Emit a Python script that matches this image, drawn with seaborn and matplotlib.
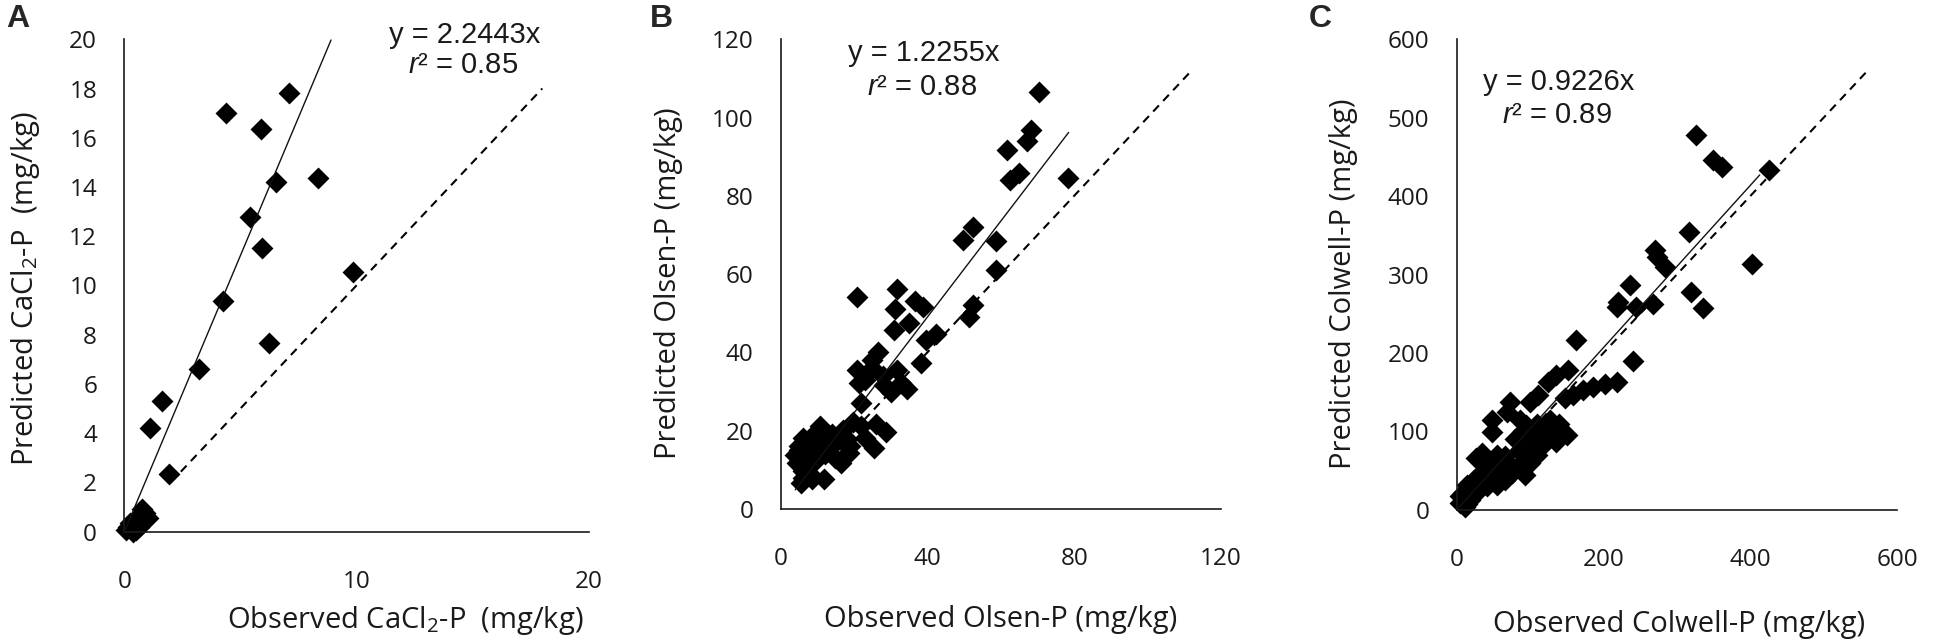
import numpy as np
import pandas as pd
import matplotlib
matplotlib.use("Agg")
import matplotlib.pyplot as plt
import seaborn as sns

# ---------------- data ----------------
a_obs = [4.39, 7.11, 5.88, 8.33, 6.54, 5.41, 5.91, 9.86, 4.25, 6.24, 3.23, 1.61, 1.11, 1.94,
         0.05, 0.15, 0.30, 0.25, 0.45, 0.50, 0.60, 0.75, 0.90, 0.80, 1.00, 0.35, 0.65]
a_pred = [17.0, 17.8, 16.35, 14.36, 14.2, 12.78, 11.53, 10.53, 9.37, 7.65, 6.62, 5.32, 4.21, 2.33,
          0.05, 0.20, 0.10, 0.35, 0.30, 0.05, 0.60, 0.90, 0.75, 0.40, 0.55, 0.00, 0.20]

b_obs = [70.3, 68.3, 67.2, 61.7, 65.1, 62.4, 78.4, 52.5, 49.7, 58.7, 58.7, 52.5, 51.4, 20.9,
         31.6, 31.3, 36.5, 38.9, 35.0, 31.0, 42.3, 39.5, 38.4, 26.5, 24.8, 20.9, 21.4, 28.2,
         31.6, 32.7, 34.4, 22.0, 19.8, 22.0, 26.0, 28.8, 25.4, 23.1, 10.7, 14.1, 16.9, 17.5,
         16.4, 18.6, 11.9, 9.6, 6.2, 5.1, 4.5, 5.6, 8.5, 7.3, 9.0, 6.2, 4.0, 7.9, 13.0, 14.7,
         5.0, 6.0, 7.0, 8.0, 9.0, 10.0, 11.0, 12.0, 6.0, 8.0, 13.0, 15.0, 18.0, 19.0, 17.0,
         23.0, 25.0, 28.0, 30.0]
b_pred = [106.5, 96.8, 93.9, 91.8, 85.9, 84.0, 84.5, 72.0, 68.8, 68.5, 61.0, 52.1, 49.0, 54.2,
          56.3, 51.0, 53.1, 51.6, 47.4, 45.8, 44.8, 43.2, 37.4, 40.1, 38.0, 35.4, 32.2, 31.7,
          35.4, 32.2, 30.6, 27.0, 22.3, 21.2, 21.8, 19.7, 15.5, 18.1, 21.2, 19.1, 20.2, 16.5,
          11.8, 14.4, 7.6, 15.0, 18.1, 15.0, 11.8, 6.6, 7.6, 10.8, 19.1, 9.7, 13.9, 12.9, 15.5, 12.9,
          16.0, 13.0, 15.0, 17.0, 12.0, 18.0, 16.0, 14.0, 8.0, 9.0, 18.0, 17.0, 18.0, 16.0, 13.0,
          33.0, 36.0, 34.0, 30.0]

c_obs = [326, 350, 361, 425, 316, 270, 273, 284, 402, 236, 319, 336, 220, 218, 245, 268,
         162, 240, 218, 202, 186, 172, 159, 148, 152, 136, 125, 111, 100, 73, 68, 48, 48,
         86, 95, 127, 145, 136, 118, 104, 100, 89, 93, 82, 66, 55, 34, 27, 41, 59, 66, 50,
         36, 23, 14, 9, 5, 14, 11, 27, 41, 55, 75, 109, 123, 5, 18,
         20, 30, 45, 60, 70, 80, 90, 110, 120, 130, 140, 150, 100, 85]
c_pred = [478, 446, 437, 433, 354, 331, 323, 310, 314, 287, 278, 257, 265, 259, 259, 263,
          216, 190, 163, 161, 157, 153, 146, 142, 178, 172, 163, 146, 138, 138, 125, 115, 99,
          115, 108, 115, 97, 87, 89, 97, 83, 72, 44, 55, 68, 70, 72, 66, 59, 55, 38, 42,
          44, 38, 32, 21, 17, 8, 4, 21, 30, 32, 47, 70, 101, 9, 13,
          30, 45, 55, 50, 60, 90, 100, 110, 85, 100, 110, 95, 60, 75]

fit_a_x = [0.0, 8.9]
fit_a_y = [0.0, 19.97]
fit_b_x = [4.0, 78.5]
fit_b_y = [4.9, 96.2]
fit_c_x = [0.0, 413.0]
fit_c_y = [0.0, 427.0]

one_a = [2.0, 18.0]
one_b = [20.0, 112.0]
one_c = [20.0, 560.0]

eq_text = ["y = 2.2443x", "y = 1.2255x", "y = 0.9226x"]
r2_text = [r"$\mathit{r}$² = 0.85", r"$\mathit{r}$² = 0.88", r"$\mathit{r}$² = 0.89"]
xlabels = ["Observed CaCl$_2$-P  (mg/kg)", "Observed Olsen-P (mg/kg)", "Observed Colwell-P (mg/kg)"]
ylabels = ["Predicted CaCl$_2$-P  (mg/kg)", "Predicted Olsen-P (mg/kg)", "Predicted Colwell-P (mg/kg)"]
panel_letters = ["A", "B", "C"]
xticks = [[0, 10, 20], [0, 40, 80, 120], [0, 200, 400, 600]]
yticks = [list(range(0, 21, 2)), list(range(0, 121, 20)), list(range(0, 601, 100))]

# ---------------- style ----------------
sns.set_style("white")
plt.rcParams["font.family"] = ["Open Sans", "DejaVu Sans"]
plt.rcParams["mathtext.fontset"] = "custom"
plt.rcParams["mathtext.rm"] = "Open Sans"
plt.rcParams["mathtext.it"] = "Liberation Sans:italic"
plt.rcParams["mathtext.bf"] = "Open Sans:bold"

EQ_FONT = ["Liberation Sans", "DejaVu Sans"]
INK = "#1a1a1a"

fig = plt.figure(figsize=(19.5, 6.42), dpi=100)

rects = [
    [0.0638, 0.1721, 0.2381, 0.7667],
    [0.4003, 0.2072, 0.2258, 0.7316],
    [0.7470, 0.2059, 0.2258, 0.7329],
]
eq_pos = [(0.733, 1.009, 0.948), (0.3245, 0.971, 0.899), (0.232, 0.909, 0.840)]
xlab_pos = [(0.6045, -0.180), (0.4989, -0.236), (0.5056, -0.244)]
ylab_pos = [(-0.214, 0.493), (-0.254, 0.480), (-0.257, 0.481)]
letter_x = [0.003, 0.3335, 0.671]

datasets = [
    (a_obs, a_pred, fit_a_x, fit_a_y, one_a),
    (b_obs, b_pred, fit_b_x, fit_b_y, one_b),
    (c_obs, c_pred, fit_c_x, fit_c_y, one_c),
]

for i, (xo, yp, fx, fy, one) in enumerate(datasets):
    ax = fig.add_axes(rects[i])
    df = pd.DataFrame({"obs": xo, "pred": yp})
    sns.scatterplot(data=df, x="obs", y="pred", ax=ax, marker="D", s=125,
                    color="black", edgecolor="black", linewidth=0, clip_on=False, zorder=2)
    sns.lineplot(x=one, y=one, ax=ax, color="black", linewidth=1.5,
                 estimator=None, sort=False, zorder=1)
    ax.lines[-1].set_dashes([4, 3])
    sns.lineplot(x=fx, y=fy, ax=ax, color="#111111", linewidth=1.0,
                 estimator=None, sort=False, zorder=3)
    ax.set_xlim(0, xticks[i][-1])
    ax.set_ylim(0, yticks[i][-1])
    ax.set_xticks(xticks[i])
    ax.set_yticks(yticks[i])
    for s in ["top", "right"]:
        ax.spines[s].set_visible(False)
    for s in ["left", "bottom"]:
        ax.spines[s].set_color(INK)
        ax.spines[s].set_linewidth(1.2)
    ax.tick_params(axis="both", direction="out", length=7.7, width=1.0, color=INK,
                   labelsize=17.5, labelcolor=INK)
    ax.tick_params(axis="y", pad=12)
    ax.tick_params(axis="x", pad=20)
    ax.set_xlabel(xlabels[i], fontsize=21, color=INK, va="center")
    ax.set_ylabel(ylabels[i], fontsize=21, color=INK, va="center")
    ax.xaxis.set_label_coords(*xlab_pos[i])
    ax.yaxis.set_label_coords(*ylab_pos[i])
    ex, ey, ry = eq_pos[i]
    ax.text(ex, ey, eq_text[i], transform=ax.transAxes, ha="center", va="center",
            fontsize=21, color=INK, family=EQ_FONT)
    ax.text(ex - 0.004, ry, r2_text[i], transform=ax.transAxes, ha="center", va="center",
            fontsize=21, color=INK, family=EQ_FONT)
    ax.grid(False)
    fig.text(letter_x[i], 0.994, panel_letters[i], ha="left", va="top", fontsize=23,
             fontweight="bold", family=["Liberation Sans", "DejaVu Sans"])

fig.savefig("out.png", dpi=100)
